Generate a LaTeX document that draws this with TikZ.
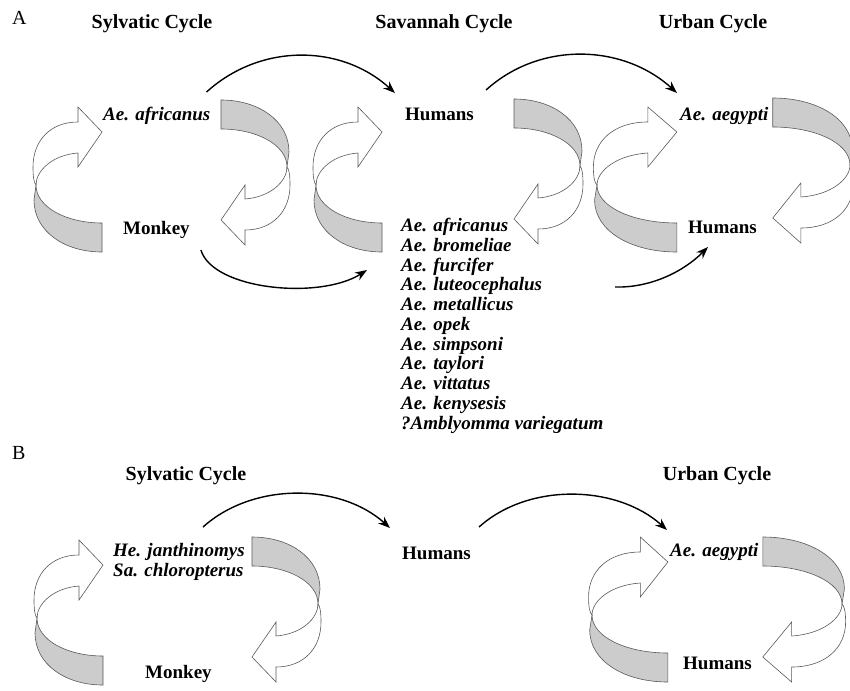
\documentclass[tikz,border=0pt]{standalone}
\usepackage{fontspec}
\setmainfont{Liberation Serif}
\usetikzlibrary{arrows.meta}

\definecolor{bandgray}{gray}{0.80}
\definecolor{bandline}{gray}{0.35}

\tikzset{
  panellabel/.style={font=\fontsize{20}{22}\selectfont, inner sep=0pt},
  titlelabel/.style={font=\fontsize{20}{22}\selectfont\bfseries, inner sep=0pt},
  hostlabel/.style={font=\fontsize{19}{19.75}\selectfont\bfseries, inner sep=0pt},
  specieslabel/.style={font=\fontsize{19}{19.75}\selectfont\bfseries\itshape, inner sep=0pt, align=left},
  cyclearc/.style={line width=1.4pt, -{Stealth[length=12pt,width=9pt]}},
  bandback/.style={fill=bandgray, draw=bandline, line width=0.6pt},
  bandfront/.style={fill=white, draw=bandline, line width=0.6pt},
}

% one twisted ribbon arrow, twist point at #1
\newcommand{\cycleloop}[3]{%
  \begin{scope}[shift={#1}, rotate=#2, xscale=#3]
    \path[bandback] (0,0) .. controls (0,22) and (30,38) .. (66,38) -- (66,67)
      .. controls (28,67) and (-2,46) .. (-2,15) -- cycle;
    \path[bandfront] (66,-53) -- (42,-78) -- (42,-63)
      .. controls (14,-63) and (-3,-44) .. (-3,-18)
      .. controls (-3,-8) and (-2,-2) .. (0,0)
      .. controls (0,-14) and (16,-30) .. (42,-32) -- (42,-18) -- cycle;
  \end{scope}}

\begin{document}
\begin{tikzpicture}[x=1pt, y=-1pt]
  \useasboundingbox (0,0) rectangle (850,690);

  % ---- A ----
  \cycleloop{(36,185)}{0}{1}
  \cycleloop{(287,167)}{180}{1}
  \cycleloop{(316,185)}{0}{1}
  \cycleloop{(580,166)}{180}{1}
  \cycleloop{(597,185)}{0}{1.21}
  \cycleloop{(850,165)}{180}{1.17}

  \node[panellabel, anchor=base west] (panA) at (12,25) {A};
  \node[titlelabel, anchor=base] (sylA) at (152,29) {Sylvatic Cycle};
  \node[titlelabel, anchor=base] (savA) at (444,29) {Savannah Cycle};
  \node[titlelabel, anchor=base] (urbA) at (713,29) {Urban Cycle};

  \node[specieslabel, anchor=base west] (afrA) at (103,121) {Ae. africanus};
  \node[hostlabel, anchor=base west] (monA) at (123,234) {Monkey};
  \node[hostlabel, anchor=base west] (humA) at (405,121) {Humans};
  \node[specieslabel, anchor=north west] (vecA) at (401,218)
    {Ae. africanus\\Ae. bromeliae\\Ae. furcifer\\Ae. luteocephalus\\Ae. metallicus\\Ae. opek\\Ae. simpsoni\\Ae. taylori\\Ae. vittatus\\Ae. kenysesis\\?Amblyomma variegatum};
  \node[specieslabel, anchor=base west] (aegA) at (680,121) {Ae. aegypti};
  \node[hostlabel, anchor=base west] (humUA) at (688,233) {Humans};

  \draw[cyclearc] ([shift={(-4,-29)}]afrA.base east) .. controls +(54,-49) and +(-54,-49) .. ([shift={(-10,-28)}]humA.base west);
  \draw[cyclearc] ([shift={(12,-31)}]humA.base east) .. controls +(54,-49) and +(-54,-49) .. ([shift={(-3,-28)}]aegA.base west);
  \draw[cyclearc] ([shift={(11,16)}]monA.base east) .. controls +(12,40) and +(-47,30) .. ([shift={(-34,52)}]vecA.north west);
  \draw[cyclearc] ([shift={(214,69)}]vecA.north west) .. controls +(35,1) and +(-25,25) .. ([shift={(20,14)}]humUA.base west);

  % ---- B ----
  \cycleloop{(37,618)}{0}{1}
  \cycleloop{(318,604)}{180}{1}
  \cycleloop{(592,615)}{0}{1.15}
  \cycleloop{(842,604)}{180}{1.2}

  \node[panellabel, anchor=base west] (panB) at (12,459) {B};
  \node[titlelabel, anchor=base] (sylB) at (186,480) {Sylvatic Cycle};
  \node[titlelabel, anchor=base] (urbB) at (717,480) {Urban Cycle};

  \node[specieslabel, anchor=north west] (hostB) at (113,543) {He. janthinomys\\Sa. chloropterus};
  \node[hostlabel, anchor=base west] (monB) at (145,678) {Monkey};
  \node[hostlabel, anchor=base west] (humB) at (402,559) {Humans};
  \node[specieslabel, anchor=base west] (aegB) at (670,556) {Ae. aegypti};
  \node[hostlabel, anchor=base west] (humUB) at (683,669) {Humans};

  \draw[cyclearc] ([shift={(90,-16)}]hostB.north west) .. controls +(50,-45) and +(-50,-45) .. ([shift={(-12,-31)}]humB.base west);
  \draw[cyclearc] ([shift={(8,-32)}]humB.base east) .. controls +(50,-45) and +(-50,-45) .. ([shift={(-3,-26)}]aegB.base west);
\end{tikzpicture}
\end{document}
